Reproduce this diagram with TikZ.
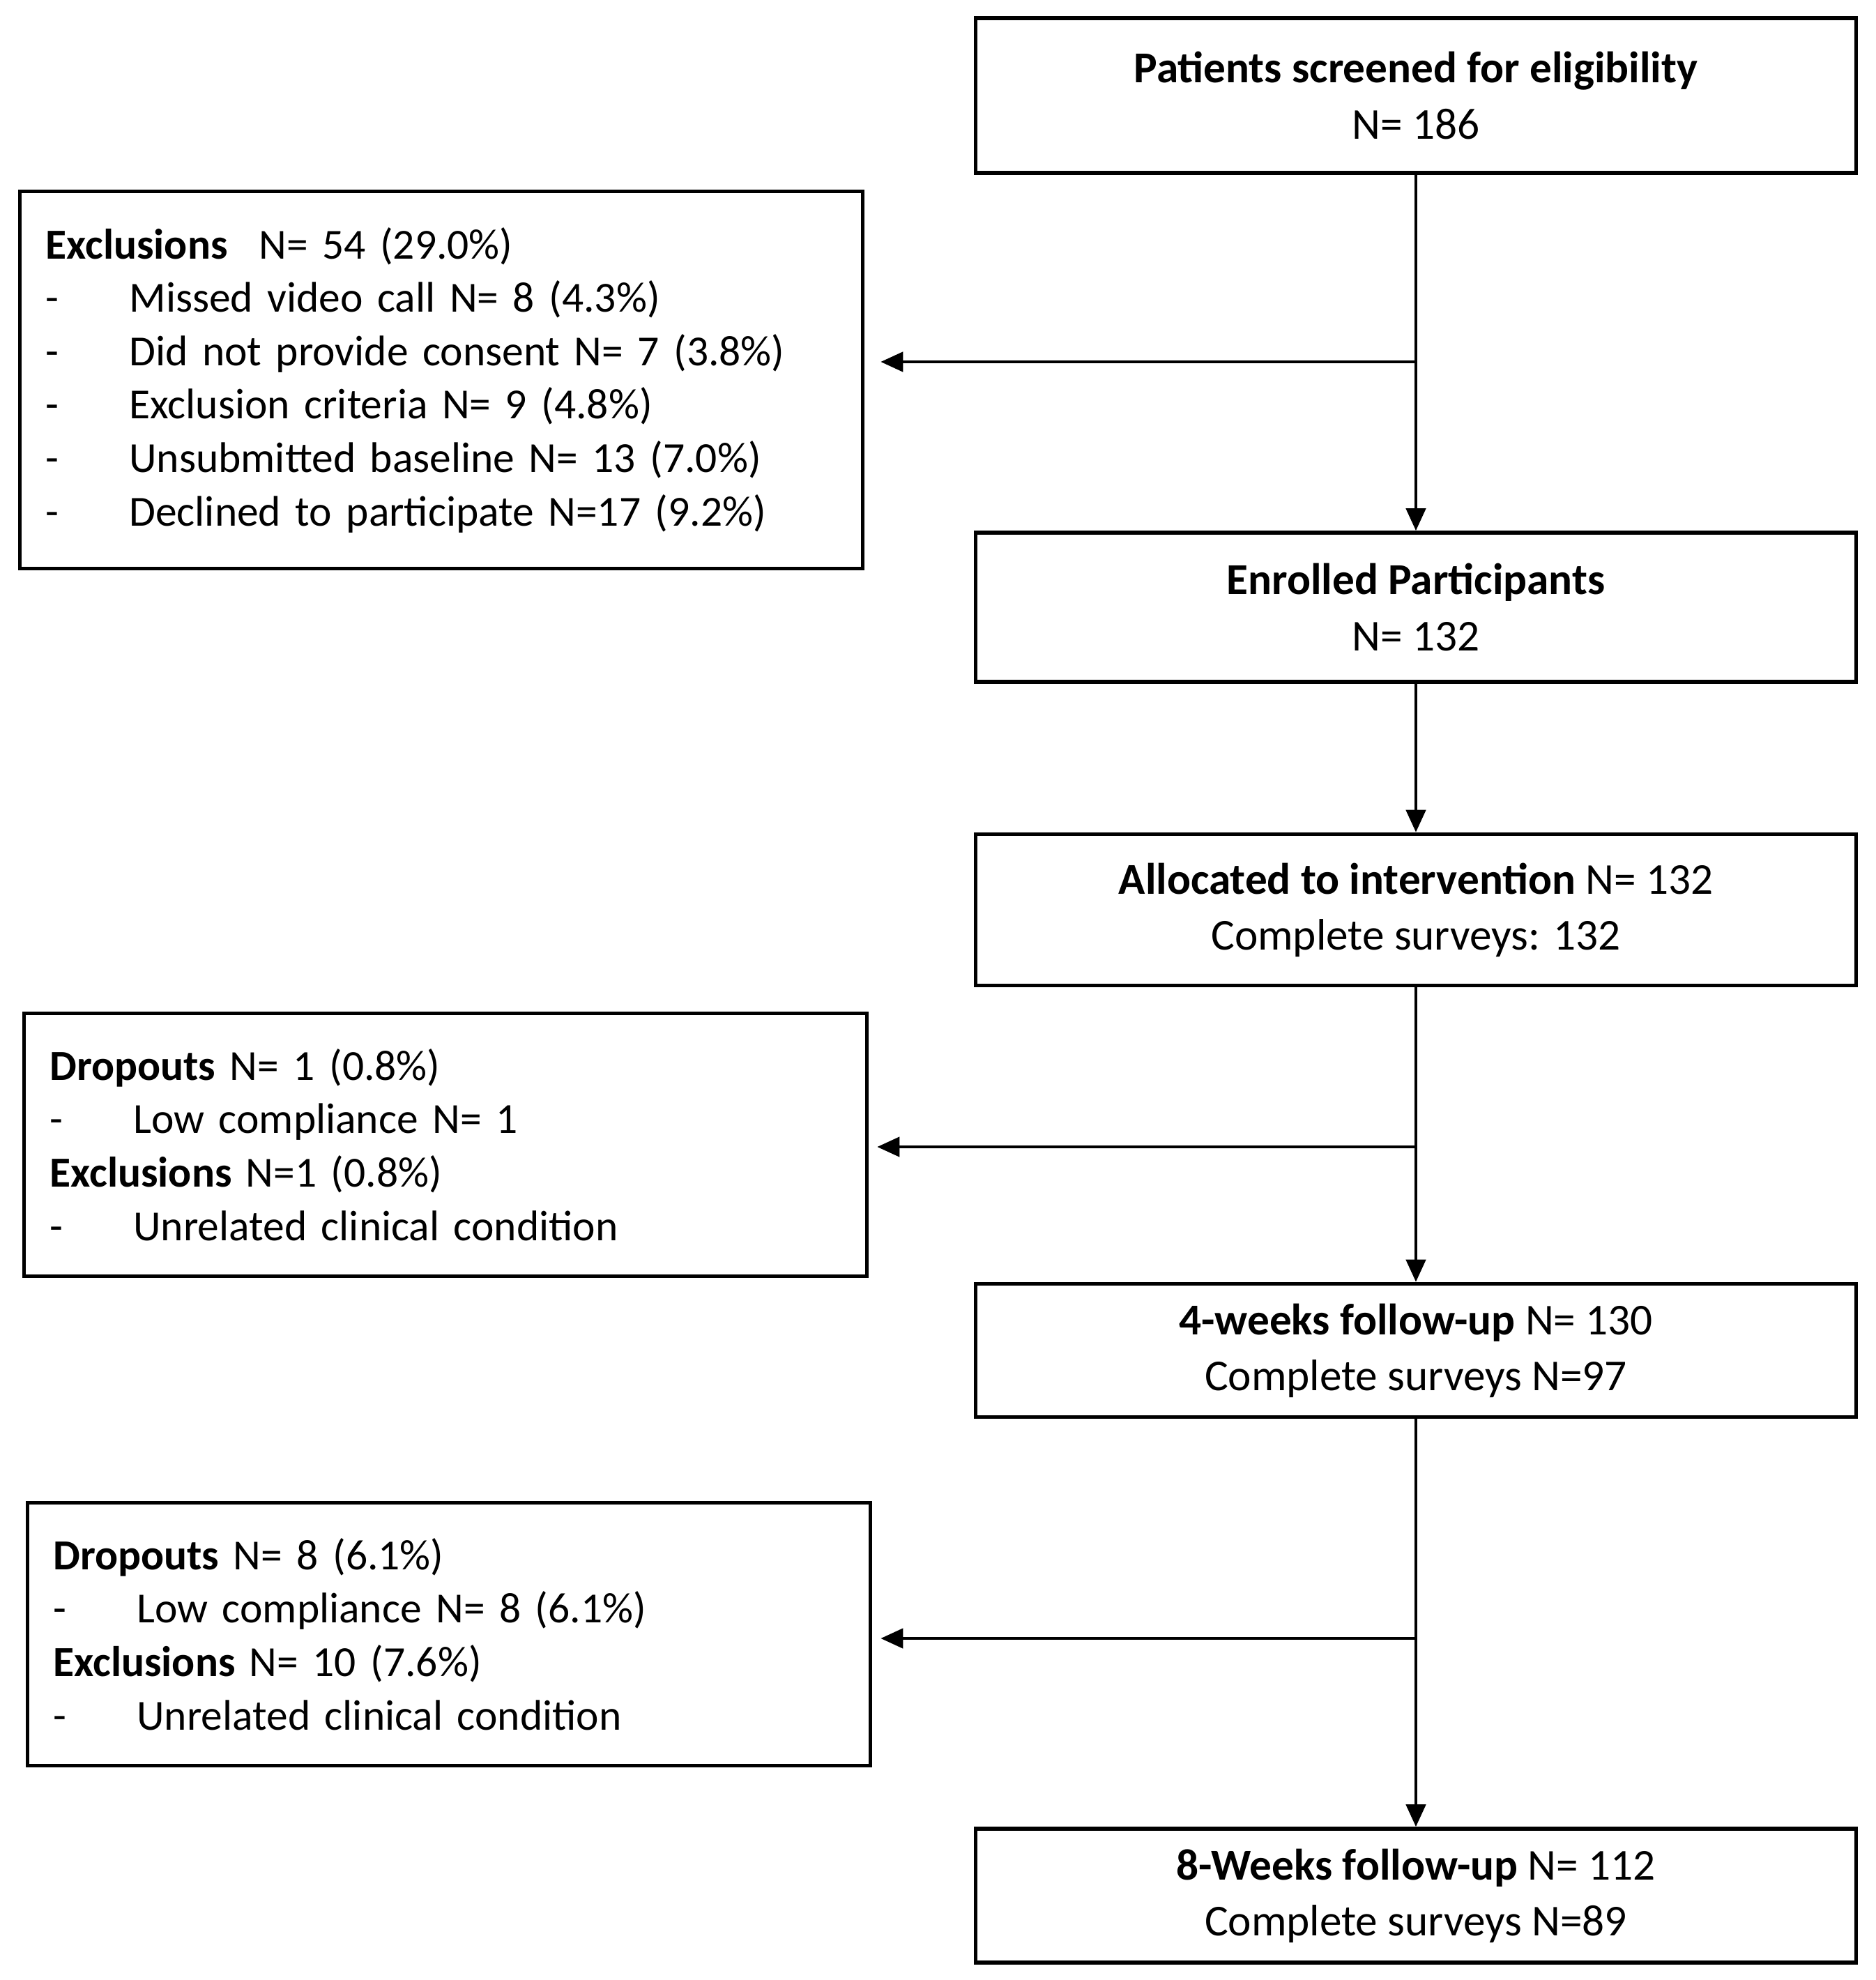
\documentclass[tikz,border=0pt]{standalone}
\usepackage{fontspec}
\setmainfont{Carlito}
\usepackage{tikz}
\usetikzlibrary{arrows.meta}

\newcommand{\itm}{\makebox[1.2cm][l]{-}}

\begin{document}
\begin{tikzpicture}
\tikzstyle{mainbox}=[rectangle,draw,line width=1.6pt,minimum width=12.63cm,align=center,font=\fontsize{18}{22.8}\selectfont]
\tikzstyle{sidebox}=[rectangle,draw,line width=1.6pt,text width=11.35cm,inner xsep=0.37cm,align=left,font=\fontsize{17.5}{21.8}\selectfont]
\tikzstyle{flow}=[line width=1.3pt,-{Triangle[length=0.32cm,width=0.28cm]}]
\useasboundingbox (0,0) rectangle (26.91,-28.40);

% main column
\node[mainbox,minimum height=2.22cm] (screen) at (20.31,-1.37) {\textbf{Patients screened for eligibility}\\N= 186};
\node[mainbox,minimum height=2.14cm] (enrol) at (20.31,-8.71) {\textbf{Enrolled Participants}\\N= 132};
\node[mainbox,minimum height=2.17cm] (alloc) at (20.31,-13.05) {\textbf{Allocated to intervention} N= 132\\Complete surveys: 132};
\node[mainbox,minimum height=1.91cm] (week4) at (20.31,-19.37) {\textbf{4-weeks follow-up} N= 130\\Complete surveys N=97};
\node[mainbox,minimum height=1.92cm] (week8) at (20.31,-27.19) {\textbf{8-Weeks follow-up} N= 112\\Complete surveys N=89};

% side boxes
\node[sidebox,minimum height=5.41cm] (excl1) at (6.33,-5.45) {\textbf{Exclusions}\hspace{0.4em} N= 54 (29.0\%)\\
\itm Missed video call N= 8 (4.3\%)\\
\itm Did not provide consent N= 7 (3.8\%)\\
\itm Exclusion criteria N= 9 (4.8\%)\\
\itm Unsubmitted baseline N= 13 (7.0\%)\\
\itm Declined to participate N=17 (9.2\%)};
\node[sidebox,minimum height=3.77cm] (drop1) at (6.39,-16.42) {\textbf{Dropouts} N= 1 (0.8\%)\\
\itm Low compliance N= 1\\
\textbf{Exclusions} N=1 (0.8\%)\\
\itm Unrelated clinical condition};
\node[sidebox,minimum height=3.77cm] (drop2) at (6.44,-23.44) {\textbf{Dropouts} N= 8 (6.1\%)\\
\itm Low compliance N= 8 (6.1\%)\\
\textbf{Exclusions} N= 10 (7.6\%)\\
\itm Unrelated clinical condition};

% branch points
\coordinate (b1) at (screen.south |- 0,-5.19);
\coordinate (b2) at (alloc.south |- 0,-16.45);
\coordinate (b3) at (week4.south |- 0,-23.50);

\draw[flow] (screen) -- (enrol);
\draw[flow] (enrol) -- (alloc);
\draw[flow] (alloc) -- (week4);
\draw[flow] (week4) -- (week8);
\draw[flow,shorten >=0.23cm] (b1) -- (excl1.east |- b1);
\draw[flow,shorten >=0.12cm] (b2) -- (drop1.east |- b2);
\draw[flow,shorten >=0.12cm] (b3) -- (drop2.east |- b3);
\end{tikzpicture}
\end{document}
